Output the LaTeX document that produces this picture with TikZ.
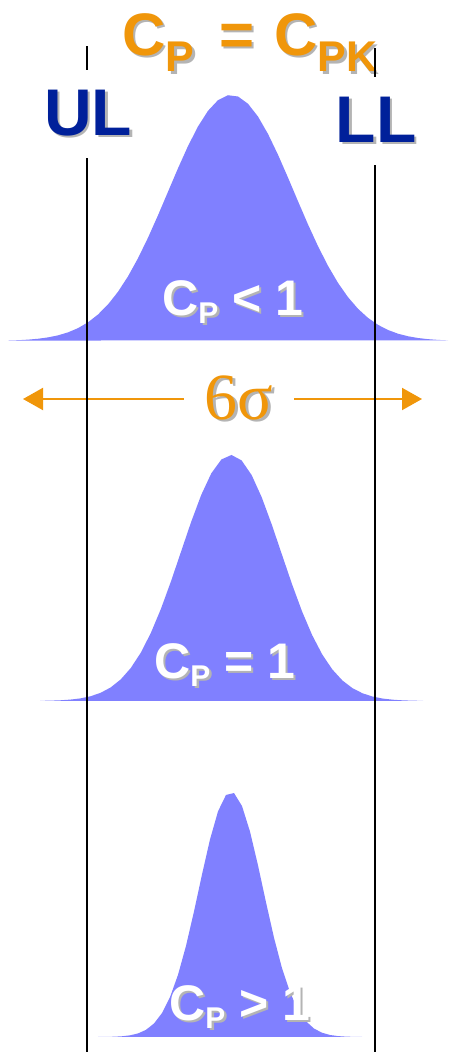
\documentclass[tikz,border=0pt]{standalone}
\usepackage{fontspec}
\setmainfont{Liberation Sans}
\newfontfamily\sigfont{Liberation Serif}
\usetikzlibrary{arrows.meta}
\definecolor{cpkorange}{HTML}{F0960A}
\definecolor{limblue}{HTML}{00209A}
\definecolor{bellfill}{HTML}{8080FF}
\definecolor{shadegrey}{HTML}{B4B4B4}
\newcommand{\shadowed}[2]{\makebox[0pt][l]{\hspace{2.5pt}\raisebox{-2.5pt}{\color{shadegrey}#2}}{\color{#1}#2}}
\newcommand{\lowsub}[3]{\raisebox{-#1}{\fontsize{#2}{#2}\selectfont #3}}

\begin{document}
\begin{tikzpicture}[x=1pt,y=-1pt,
  bell/.style={fill=bellfill,draw=none},
  limline/.style={line width=1.6pt,black},
  limlab/.style={fill=white,inner sep=0pt,minimum width=84pt,minimum height=88pt,
                 font=\fontsize{66}{66}\selectfont\bfseries},
  cplab/.style={anchor=base west,inner sep=0pt,font=\fontsize{50}{50}\selectfont\bfseries},
  spread/.style={line width=2pt,cpkorange,-{Triangle[length=20pt,width=22pt]}}]
\useasboundingbox (0,0) rectangle (448,1052);
\fill[bell] plot[domain=8:448,samples=45]
  (\x,{341-246*exp(-0.5*((\x-231)/63)*((\x-231)/63))}) -- cycle;
\fill[bell] plot[domain=40:423,samples=39]
  (\x,{701-246*exp(-0.5*((\x-231)/50)*((\x-231)/50))}) -- cycle;
\fill[bell] plot[domain=98:362,samples=34]
  (\x,{1037-245*exp(-0.5*((\x-231)/32)*((\x-231)/32))}) -- cycle;
\node[anchor=base west,inner sep=0pt,font=\fontsize{60}{60}\selectfont\bfseries] (title) at (122,55)
  {\shadowed{cpkorange}{C\lowsub{17pt}{43}{P}\hspace{25pt}=\hspace{20pt}C\lowsub{17pt}{43}{PK}}};
\coordinate (spanL) at (23,399);
\coordinate (spanR) at (422,399);
\node[minimum width=110pt,inner sep=0pt,font=\sigfont\fontsize{66}{66}\selectfont] (six) at (239,399)
  {\shadowed{cpkorange}{6σ}};
\draw[spread] (six.west) -- (spanL);
\draw[spread] (six.east) -- (spanR);
\coordinate (ulTop) at (87,46);
\coordinate (ulBot) at (87,1052);
\coordinate (llTop) at (375,48);
\coordinate (llBot) at (375,1052);
\draw[limline] (ulTop) -- (ulBot);
\draw[limline] (llTop) -- (llBot);
\node[limlab] (ul) at (88,114) {\shadowed{limblue}{UL}};
\node[limlab] (ll) at (376,121) {\shadowed{limblue}{LL}};
\node[cplab] (cpLow) at (162,315) {\shadowed{white}{C\lowsub{8pt}{30}{P} < 1}};
\node[cplab] (cpEq) at (154,678) {\shadowed{white}{C\lowsub{8pt}{30}{P} = 1}};
\node[cplab] (cpHigh) at (169,1020) {\shadowed{white}{C\lowsub{8pt}{30}{P} > 1}};
\end{tikzpicture}
\end{document}
